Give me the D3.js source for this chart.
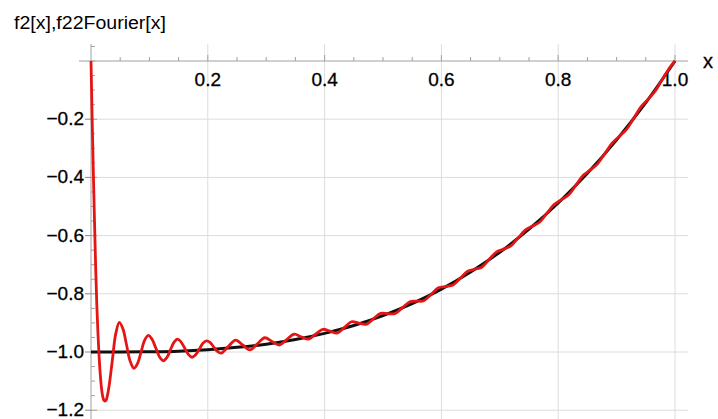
<!DOCTYPE html>
<html>
<head>
<meta charset="utf-8">
<script src="https://cdn.jsdelivr.net/npm/d3@7"></script>
<style>
  body { margin: 0; background: #fff; }
  text { font-family: "Liberation Sans", Arial, sans-serif; fill: #000; }
</style>
</head>
<body>
<svg id="chart" width="718" height="419"></svg>
<script>
// f2[x]
const f2X = [0, 0.05, 0.1, 0.15, 0.2, 0.25, 0.3, 0.35, 0.4, 0.45, 0.5,
             0.55, 0.6, 0.65, 0.7, 0.75, 0.8, 0.85, 0.9, 0.95, 1];
const f2Y = [-1, -1, -0.999, -0.997, -0.992, -0.984, -0.973, -0.957, -0.936, -0.909, -0.875,
             -0.834, -0.784, -0.725, -0.657, -0.578, -0.488, -0.386, -0.271, -0.143, 0];

// f22Fourier[x] (extrema and the points between them)
const fourX = [0, 0.002, 0.004, 0.006, 0.008, 0.010, 0.012, 0.014, 0.016, 0.018, 0.020, 0.022, 0.024, 0.026,
  0.0301, 0.0363, 0.0424, 0.0485, 0.0548, 0.0610, 0.0673, 0.0736, 0.0797, 0.0858, 0.0919, 0.098,
  0.1045, 0.111, 0.1175, 0.124, 0.130, 0.136, 0.142, 0.148, 0.154, 0.1605, 0.167, 0.173,
  0.1792, 0.1855, 0.1917, 0.198, 0.2042, 0.2103, 0.2165, 0.2226, 0.235, 0.2475, 0.2598, 0.272,
  0.2848, 0.2975, 0.310, 0.3225, 0.335, 0.3476, 0.3598, 0.372, 0.3845, 0.397, 0.409, 0.4215,
  0.434, 0.446, 0.4585, 0.471, 0.4835, 0.496, 0.5085, 0.521, 0.5335, 0.546, 0.558, 0.570,
  0.5825, 0.595, 0.6075, 0.620, 0.6325, 0.645, 0.657, 0.669, 0.6815, 0.694, 0.7065, 0.719,
  0.7315, 0.744, 0.756, 0.768, 0.7805, 0.793, 0.8055, 0.818, 0.8305, 0.843, 0.855, 0.867,
  0.8795, 0.892, 0.9045, 0.917, 0.9295, 0.942, 0.954, 0.966, 0.978, 0.991, 1];
const fourY = [0, -0.2, -0.38, -0.55, -0.71, -0.84, -0.94, -1.02, -1.08, -1.125, -1.152, -1.166, -1.169, -1.165,
  -1.128, -1.0325, -0.937, -0.898, -0.921, -0.977, -1.033, -1.056, -1.0395, -0.9995, -0.9595, -0.943,
  -0.956, -0.9865, -1.017, -1.030, -1.019, -0.993, -0.967, -0.956, -0.965, -0.987, -1.009, -1.018,
  -1.0098, -0.990, -0.970, -0.962, -0.968, -0.983, -0.998, -1.004, -0.9815, -0.959, -0.976, -0.993,
  -0.972, -0.951, -0.9635, -0.976, -0.9575, -0.939, -0.9475, -0.956, -0.939, -0.922, -0.9285, -0.935,
  -0.9155, -0.896, -0.9005, -0.905, -0.886, -0.867, -0.8685, -0.8676, -0.8475, -0.8272, -0.8255, -0.8238,
  -0.8017, -0.7794, -0.775, -0.7697, -0.7462, -0.7227, -0.7156, -0.7086, -0.6827, -0.6568, -0.6466, -0.6353,
  -0.6078, -0.5802, -0.5671, -0.554, -0.5237, -0.4933, -0.4766, -0.4597, -0.4264, -0.3929, -0.3742, -0.3543,
  -0.319, -0.2833, -0.2593, -0.2349, -0.1963, -0.1571, -0.1311, -0.1036, -0.064, -0.0228, 0];

const xTickVals = [0.2, 0.4, 0.6, 0.8, 1.0];
const yTickVals = [-1.2, -1.0, -0.8, -0.6, -0.4, -0.2];
const xMinor = d3.range(1, 21).map(i => i * 0.05);
const yMinor = d3.range(-24, 2).map(i => i * 0.05);

const svg = d3.select("#chart");
const x = d3.scaleLinear().domain([0, 1]).range([91, 675]);
const y = d3.scaleLinear().domain([-1.2, 0]).range([410.2, 61]);
const plotTop = 44, plotBottom = 419, plotLeft = 79, plotRight = 688;
const fmt = d => d3.format(".1f")(d).replace("-", "\u2212");

// grid
svg.append("g").selectAll("line").data(xTickVals).join("line")
  .attr("x1", d => x(d)).attr("x2", d => x(d)).attr("y1", plotTop).attr("y2", plotBottom)
  .attr("stroke", "#dcdcdc").attr("stroke-width", 1);
svg.append("g").selectAll("line").data(yTickVals).join("line")
  .attr("x1", x(0)).attr("x2", plotRight).attr("y1", d => y(d)).attr("y2", d => y(d))
  .attr("stroke", "#dcdcdc").attr("stroke-width", 1);

// axes
const axisCol = "#a0a0a0";
svg.append("line").attr("x1", plotLeft).attr("x2", plotRight).attr("y1", y(0)).attr("y2", y(0))
  .attr("stroke", axisCol);
svg.append("line").attr("x1", x(0)).attr("x2", x(0)).attr("y1", plotTop).attr("y2", plotBottom)
  .attr("stroke", axisCol);

svg.append("g").selectAll("line").data(xMinor).join("line")
  .attr("x1", d => x(d)).attr("x2", d => x(d))
  .attr("y1", y(0)).attr("y2", d => y(0) - (xTickVals.some(v => Math.abs(v - d) < 1e-6) ? 6 : 4))
  .attr("stroke", axisCol);
svg.append("g").selectAll("line").data(yMinor).join("line")
  .attr("x1", x(0)).attr("x2", d => x(0) + (yTickVals.some(v => Math.abs(v - d) < 1e-6) ? 6 : 4))
  .attr("y1", d => y(d)).attr("y2", d => y(d))
  .attr("stroke", axisCol);
svg.append("g").selectAll("line").data(yTickVals).join("line")
  .attr("x1", x(0) - 6).attr("x2", x(0)).attr("y1", d => y(d)).attr("y2", d => y(d))
  .attr("stroke", "#888");

// tick labels (thin stroke to match the heavier look of the original)
svg.append("g").selectAll("text").data(xTickVals).join("text")
  .attr("x", d => x(d)).attr("y", 86).attr("text-anchor", "middle")
  .style("font-size", "19px").attr("stroke", "#000").attr("stroke-width", 0.3).text(fmt);
svg.append("g").selectAll("text").data(yTickVals).join("text")
  .attr("x", 84).attr("y", d => y(d) + 6).attr("text-anchor", "end")
  .style("font-size", "19px").attr("stroke", "#000").attr("stroke-width", 0.3).text(fmt);
svg.append("text").attr("x", 703).attr("y", 68).style("font-size", "20px")
  .attr("stroke", "#000").attr("stroke-width", 0.3).text("x");
svg.append("text").attr("x", 14).attr("y", 29).style("font-size", "18px")
  .attr("textLength", 152).attr("lengthAdjust", "spacingAndGlyphs").text("f2[x],f22Fourier[x]");

// curves
svg.append("clipPath").attr("id", "clip").append("rect")
  .attr("x", plotLeft).attr("y", plotTop).attr("width", plotRight - plotLeft).attr("height", plotBottom - plotTop);
const line = d3.line().x(d => x(d[0])).y(d => y(d[1])).curve(d3.curveCatmullRom.alpha(0.5));
const plot = svg.append("g").attr("clip-path", "url(#clip)");
plot.append("path").datum(d3.zip(f2X, f2Y)).attr("d", line)
  .attr("fill", "none").attr("stroke", "#111").attr("stroke-width", 3);
plot.append("path").datum(d3.zip(fourX, fourY)).attr("d", line)
  .attr("fill", "none").attr("stroke", "#e51515").attr("stroke-width", 2.8);
</script>
</body>
</html>
